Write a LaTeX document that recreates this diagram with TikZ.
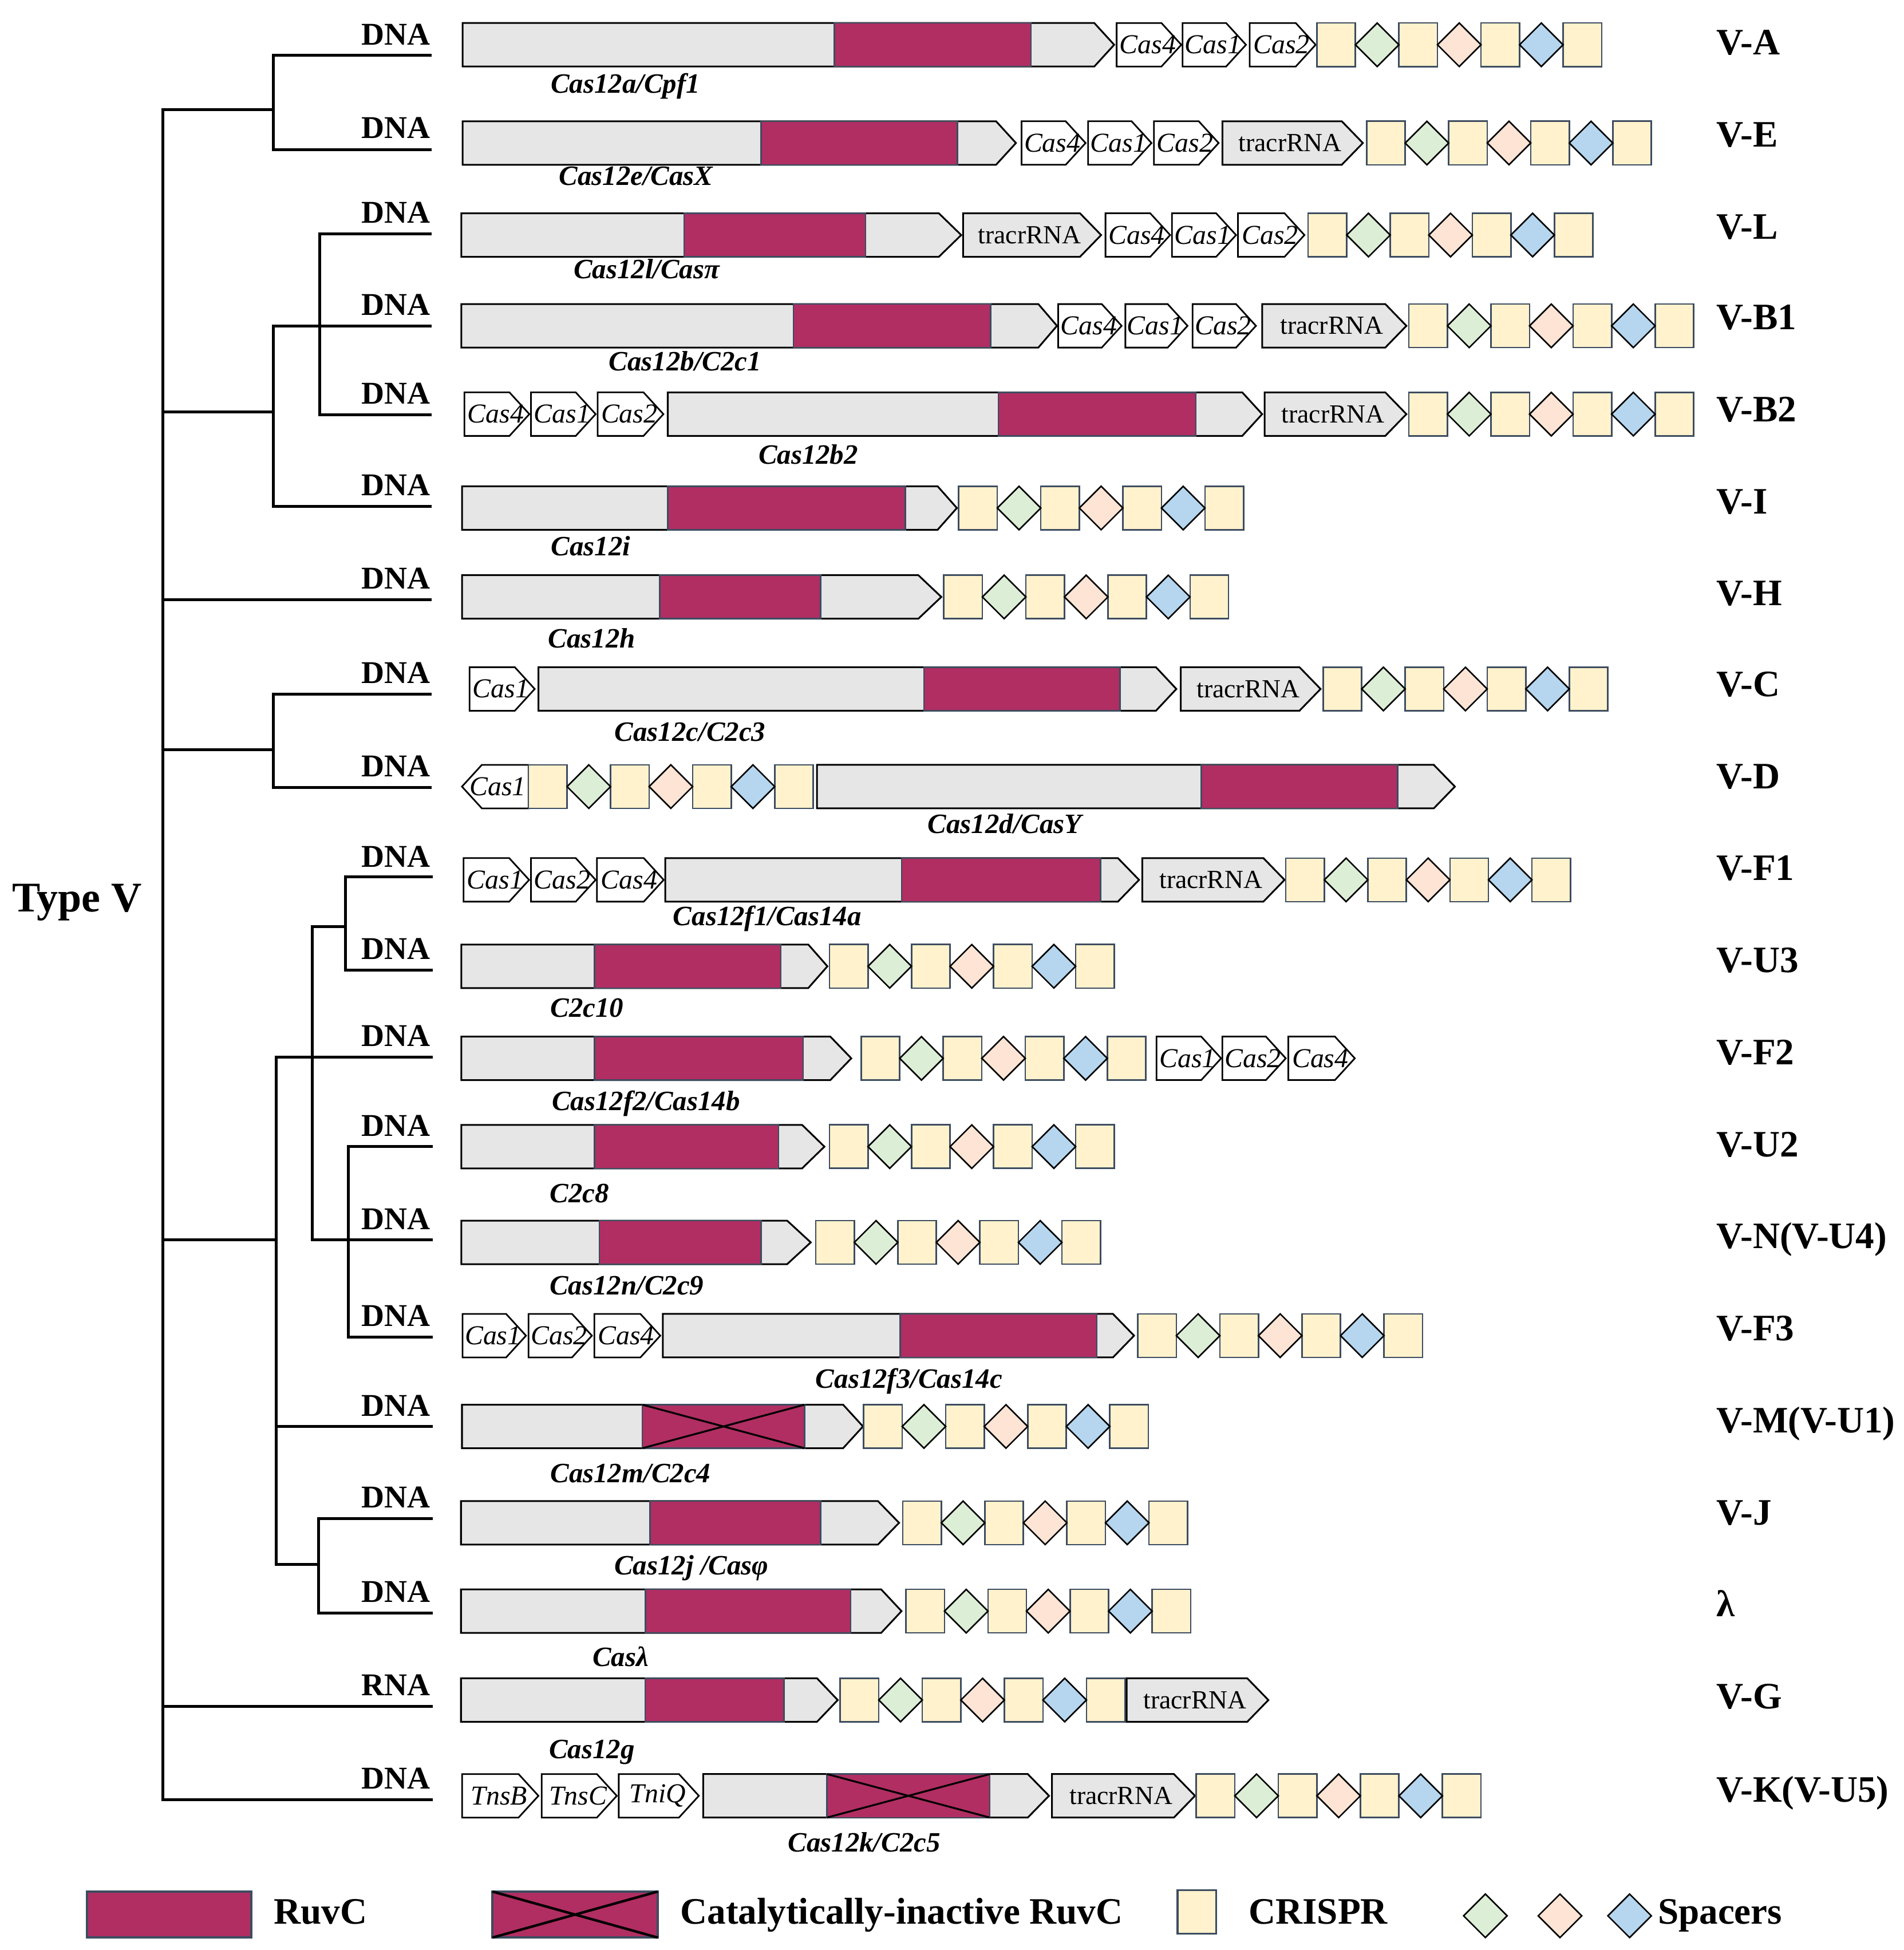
\documentclass[tikz,border=0pt]{standalone}
\usepackage{fontspec}
\setmainfont{Liberation Serif}
\definecolor{ruvcc}{RGB}{176,46,98}
\definecolor{bodyc}{RGB}{230,230,230}
\definecolor{creamc}{RGB}{255,242,204}
\definecolor{slatec}{RGB}{61,76,96}
\definecolor{spgc}{RGB}{221,238,214}
\definecolor{sppc}{RGB}{253,228,212}
\definecolor{spbc}{RGB}{181,214,238}
\tikzset{
  tree/.style={line width=2.3pt, line join=miter},
  genebody/.style={fill=bodyc, draw=black, line width=1.4pt, line join=miter},
  minigene/.style={fill=white, draw=black, line width=1.3pt, line join=miter},
  ruvbox/.style={fill=ruvcc, draw=slatec, line width=1.1pt},
  crosslines/.style={draw=black, line width=1.5pt},
  crsq/.style={fill=creamc, draw=slatec, line width=1.2pt},
  spacer/.style={draw=black, line width=1.2pt, line join=miter},
  dnatxt/.style={font=\fontsize{25.5}{26}\selectfont\bfseries, inner sep=0pt, anchor=base east},
  rowtxt/.style={font=\fontsize{30}{30}\selectfont\bfseries, inner sep=0pt, anchor=base west},
  genetxt/.style={font=\fontsize{22.5}{23}\selectfont\bfseries\itshape, inner sep=0pt, anchor=base},
  minitxt/.style={font=\fontsize{22}{22}\selectfont\itshape, inner sep=0pt},
  tracrtxt/.style={font=\fontsize{21}{21}\selectfont, inner sep=0pt},
  legtxt/.style={font=\fontsize{30}{30}\selectfont\bfseries, inner sep=0pt, anchor=base west}
}
% big gene arrow: x0, body end, tip, yc
\newcommand{\GeneBody}[4]{\filldraw[genebody] (#1,#4-17.5) -- (#2,#4-17.5) -- (#3,#4) -- (#2,#4+17.5) -- (#1,#4+17.5) -- cycle;}
\newcommand{\RuvBox}[3]{\filldraw[ruvbox] (#1,#3-17.5) rectangle (#2,#3+17.5);}
\newcommand{\DeadRuv}[3]{\RuvBox{#1}{#2}{#3}\draw[crosslines] (#1,#3-17.5) -- (#2,#3+17.5) (#1,#3+17.5) -- (#2,#3-17.5);}
% small gene arrow: name, x0, tip, yc, text
\newcommand{\MiniGene}[5]{\filldraw[minigene] (#2,#4-17.5) -- (#3-16,#4-17.5) -- (#3,#4) -- (#3-16,#4+17.5) -- (#2,#4+17.5) -- cycle;
  \node[minitxt] (#1) at ({(#2+#3)/2-1},#4) {#5};}
\newcommand{\MiniGeneL}[5]{\filldraw[minigene] (#3,#4-17.5) -- (#2+16,#4-17.5) -- (#2,#4) -- (#2+16,#4+17.5) -- (#3,#4+17.5) -- cycle;
  \node[minitxt] (#1) at ({(#2+#3)/2+2},#4) {#5};}
\newcommand{\Tracr}[4]{\filldraw[genebody] (#2,#4-17.5) -- (#3-17,#4-17.5) -- (#3,#4) -- (#3-17,#4+17.5) -- (#2,#4+17.5) -- cycle;
  \node[tracrtxt] (#1) at ({(#2+#3)/2-2},#4) {tracrRNA};}
\newcommand{\SpacerD}[3]{\filldraw[spacer, fill=#1] (#2,#3) -- ({#2+17.5},#3-17.5) -- ({#2+35},#3) -- ({#2+17.5},#3+17.5) -- cycle;}
\newcommand{\Crispr}[2]{\foreach \k in {0,1,2,3}{\filldraw[crsq] ({#1+66*\k},#2-17.5) rectangle ({#1+66*\k+31},#2+17.5);}
  \SpacerD{spgc}{#1+31}{#2}\SpacerD{sppc}{#1+97}{#2}\SpacerD{spbc}{#1+163}{#2}}
\begin{document}
\begin{tikzpicture}[x=1pt,y=-1pt]
\fill[white] (0,0) rectangle (1531,1568);
\useasboundingbox (0,0) rectangle (1531,1568);

% ---------------- tree ----------------
\coordinate (R0) at (131,88);
\coordinate (R1) at (131,331);
\coordinate (R2) at (131,482);
\coordinate (R3) at (131,603);
\coordinate (R4) at (131,997);
\coordinate (R5) at (131,1372);
\coordinate (R6) at (131,1447);
\coordinate (AE) at (220,88);
\coordinate (AEt) at (220,44.6);
\coordinate (AEb) at (220,120.5);
\coordinate (LA) at (347,44.6);
\coordinate (LE) at (347,120.5);
\coordinate (BI) at (220,331);
\coordinate (BIt) at (220,262);
\coordinate (BIb) at (220,407);
\coordinate (LB1) at (347,262);
\coordinate (LI) at (347,407);
\coordinate (LBt) at (257,188);
\coordinate (LBb) at (257,333.5);
\coordinate (LL) at (347,188);
\coordinate (LB2) at (347,333.5);
\coordinate (LH) at (347,482);
\coordinate (CD) at (220,603);
\coordinate (CDt) at (220,558);
\coordinate (CDb) at (220,633);
\coordinate (LC) at (347,558);
\coordinate (LD) at (347,633);
\coordinate (FG) at (222,997);
\coordinate (FGt) at (222,850);
\coordinate (FGm) at (222,1147);
\coordinate (FGb) at (222,1258);
\coordinate (LF2) at (348,850);
\coordinate (LM) at (348,1147);
\coordinate (JL) at (256,1258);
\coordinate (JLt) at (256,1221);
\coordinate (JLb) at (256,1297);
\coordinate (LJ) at (348,1221);
\coordinate (Llam) at (348,1297);
\coordinate (FN) at (251,745);
\coordinate (FNb) at (251,997);
\coordinate (LN) at (348,997);
\coordinate (FUc) at (278,745);
\coordinate (FUt) at (278,705);
\coordinate (FUb) at (278,780);
\coordinate (LF1) at (348,705);
\coordinate (LU3) at (348,780);
\coordinate (UFt) at (280,922);
\coordinate (UFb) at (280,1075);
\coordinate (LU2) at (348,922);
\coordinate (LF3) at (348,1075);
\coordinate (LG) at (348,1372);
\coordinate (LK) at (348,1447);

\draw[tree] (AE) -- (R0) -- (R6) -- (LK);
\draw[tree] (LA) -- (AEt) -- (AEb) -- (LE);
\draw[tree] (R1) -- (BI);
\draw[tree] (LB1) -- (BIt) -- (BIb) -- (LI);
\draw[tree] (LL) -- (LBt) -- (LBb) -- (LB2);
\draw[tree] (R2) -- (LH);
\draw[tree] (R3) -- (CD);
\draw[tree] (LC) -- (CDt) -- (CDb) -- (LD);
\draw[tree] (R4) -- (FG);
\draw[tree] (LF2) -- (FGt) -- (FGb) -- (JL);
\draw[tree] (FGm) -- (LM);
\draw[tree] (LJ) -- (JLt) -- (JLb) -- (Llam);
\draw[tree] (LN) -- (FNb) -- (FN) -- (FUc);
\draw[tree] (LF1) -- (FUt) -- (FUb) -- (LU3);
\draw[tree] (LU2) -- (UFt) -- (UFb) -- (LF3);
\draw[tree] (R5) -- (LG);

\node[font=\fontsize{34}{34}\selectfont\bfseries, anchor=base west, inner sep=0pt] (typeV) at (9.5,733) {Type V};

% DNA labels
\node[dnatxt] (dA) at (346,36) {DNA};
\node[dnatxt] (dE) at (346,111) {DNA};
\node[dnatxt] (dL) at (346,179.5) {DNA};
\node[dnatxt] (dB1) at (346,253.5) {DNA};
\node[dnatxt] (dB2) at (346,325) {DNA};
\node[dnatxt] (dI) at (346,398.5) {DNA};
\node[dnatxt] (dH) at (346,473.5) {DNA};
\node[dnatxt] (dC) at (346,549.5) {DNA};
\node[dnatxt] (dD) at (346,624.5) {DNA};
\node[dnatxt] (dF1) at (346,697) {DNA};
\node[dnatxt] (dU3) at (346,771.5) {DNA};
\node[dnatxt] (dF2) at (346,841.5) {DNA};
\node[dnatxt] (dU2) at (346,913.5) {DNA};
\node[dnatxt] (dN) at (346,988.5) {DNA};
\node[dnatxt] (dF3) at (346,1066.5) {DNA};
\node[dnatxt] (dM) at (346,1138.5) {DNA};
\node[dnatxt] (dJ) at (346,1212.5) {DNA};
\node[dnatxt] (dlam) at (346,1288.5) {DNA};
\node[dnatxt] (dG) at (346,1363.5) {RNA};
\node[dnatxt] (dK) at (346,1438.5) {DNA};

% row labels
\node[rowtxt] (tA) at (1380,44) {V-A};
\node[rowtxt] (tE) at (1380,118) {V-E};
\node[rowtxt] (tL) at (1380,192) {V-L};
\node[rowtxt] (tB1) at (1380,265) {V-B1};
\node[rowtxt] (tB2) at (1380,339) {V-B2};
\node[rowtxt] (tI) at (1380,413) {V-I};
\node[rowtxt] (tH) at (1380,487) {V-H};
\node[rowtxt] (tC) at (1380,560) {V-C};
\node[rowtxt] (tD) at (1380,634) {V-D};
\node[rowtxt] (tF1) at (1380,708) {V-F1};
\node[rowtxt] (tU3) at (1380,782) {V-U3};
\node[rowtxt] (tF2) at (1380,856) {V-F2};
\node[rowtxt] (tU2) at (1380,930) {V-U2};
\node[rowtxt] (tN) at (1380,1004) {V-N(V-U4)};
\node[rowtxt] (tF3) at (1380,1078) {V-F3};
\node[rowtxt] (tM) at (1380,1152) {V-M(V-U1)};
\node[rowtxt] (tJ) at (1380,1226) {V-J};
\node[rowtxt] (tlam) at (1380,1300) {λ};
\node[rowtxt] (tG) at (1380,1374) {V-G};
\node[rowtxt] (tK) at (1380,1449) {V-K(V-U5)};

% ---------------- rows ----------------
% V-A
\GeneBody{372}{880}{896}{36}
\RuvBox{671}{829}{36}
\MiniGene{A4}{898}{950}{36}{Cas4}
\MiniGene{A1}{951}{1002}{36}{Cas1}
\MiniGene{A2}{1005}{1058}{36}{Cas2}
\Crispr{1059}{36}
\node[genetxt] (gA) at (503,75) {Cas12a/Cpf1};
% V-E
\GeneBody{372}{801}{817}{115}
\RuvBox{612}{770}{115}
\MiniGene{E4}{821.5}{873}{115}{Cas4}
\MiniGene{E1}{875}{926}{115}{Cas1}
\MiniGene{E2}{928}{980}{115}{Cas2}
\Tracr{Etr}{983}{1096}{115}
\Crispr{1099}{115}
\node[genetxt] (gE) at (511.5,149) {Cas12e/CasX};
% V-L
\GeneBody{371}{755}{773}{189}
\RuvBox{550}{696}{189}
\Tracr{Ltr}{774.5}{885.5}{189}
\MiniGene{L4}{889}{941}{189}{Cas4}
\MiniGene{L1}{942.5}{994}{189}{Cas1}
\MiniGene{L2}{995.5}{1049}{189}{Cas2}
\Crispr{1052}{189}
\node[genetxt] (gL) at (520,224) {Cas12l/Casπ};
% V-B1
\GeneBody{371}{835}{850}{262}
\RuvBox{638}{796.6}{262}
\MiniGene{B14}{851}{902}{262}{Cas4}
\MiniGene{B11}{905}{955}{262}{Cas1}
\MiniGene{B12}{959}{1010}{262}{Cas2}
\Tracr{B1tr}{1015}{1131}{262}
\Crispr{1133}{262}
\node[genetxt] (gB1) at (551,298) {Cas12b/C2c1};
% V-B2
\MiniGene{B24}{373.5}{425.7}{333}{Cas4}
\MiniGene{B21}{427}{479}{333}{Cas1}
\MiniGene{B22}{480.6}{533.5}{333}{Cas2}
\GeneBody{537}{999}{1015}{333}
\RuvBox{803}{961.6}{333}
\Tracr{B2tr}{1017}{1131}{333}
\Crispr{1133}{333}
\node[genetxt] (gB2) at (650,373) {Cas12b2};
% V-I
\GeneBody{371.6}{754}{769.5}{408.5}
\RuvBox{537}{728}{408.5}
\Crispr{771}{408.5}
\node[genetxt] (gI) at (475,447) {Cas12i};
% V-H
\GeneBody{371.6}{738.5}{757}{480}
\RuvBox{530.5}{660}{480}
\Crispr{759}{480}
\node[genetxt] (gH) at (476,521) {Cas12h};
% V-C
\MiniGene{C1}{377.6}{430}{554}{Cas1}
\GeneBody{433}{929.6}{946}{554}
\RuvBox{743}{900.6}{554}
\Tracr{Ctr}{949.5}{1062}{554}
\Crispr{1064}{554}
\node[genetxt] (gC) at (555,596) {Cas12c/C2c3};
% V-D
\MiniGeneL{D1}{371.5}{425}{632.5}{Cas1}
\Crispr{425}{632.5}
\GeneBody{657}{1153}{1170}{632.5}
\RuvBox{966}{1124}{632.5}
\node[genetxt] (gD) at (808,670) {Cas12d/CasY};
% V-F1
\MiniGene{F11}{372.8}{425.5}{707.5}{Cas1}
\MiniGene{F12}{427}{479}{707.5}{Cas2}
\MiniGene{F14}{480}{533.7}{707.5}{Cas4}
\GeneBody{535}{899}{916}{707.5}
\RuvBox{725}{885}{707.5}
\Tracr{F1tr}{918.6}{1033}{707.5}
\Crispr{1034}{707.5}
\node[genetxt] (gF1) at (617,744) {Cas12f1/Cas14a};
% V-U3
\GeneBody{371}{650}{665.4}{777}
\RuvBox{478}{628}{777}
\Crispr{667}{777}
\node[genetxt] (gU3) at (472,818) {C2c10};
% V-F2
\GeneBody{371}{667.7}{684.6}{851}
\RuvBox{478}{646}{851}
\Crispr{692.5}{851}
\MiniGene{F21}{930}{982}{851}{Cas1}
\MiniGene{F22}{983}{1034}{851}{Cas2}
\MiniGene{F24}{1036}{1089.5}{851}{Cas4}
\node[genetxt] (gF2) at (519.5,893) {Cas12f2/Cas14b};
% V-U2
\GeneBody{371}{645}{663}{922}
\RuvBox{478}{626}{922}
\Crispr{667}{922}
\node[genetxt] (gU2) at (466,967) {C2c8};
% V-N
\GeneBody{371}{633}{652}{999}
\RuvBox{482}{612}{999}
\Crispr{656}{999}
\node[genetxt] (gN) at (504,1041) {Cas12n/C2c9};
% V-F3
\MiniGene{F31}{372}{423}{1074}{Cas1}
\MiniGene{F32}{425}{476}{1074}{Cas2}
\MiniGene{F34}{478}{531}{1074}{Cas4}
\GeneBody{533}{895}{912}{1074}
\RuvBox{724}{882}{1074}
\Crispr{915}{1074}
\node[genetxt] (gF3) at (731,1116) {Cas12f3/Cas14c};
% V-M
\GeneBody{371.5}{678}{694}{1147}
\DeadRuv{516.6}{647}{1147}
\Crispr{694.5}{1147}
\node[genetxt] (gM) at (507,1192) {Cas12m/C2c4};
% V-J
\GeneBody{370.7}{706}{723}{1224.5}
\RuvBox{522.7}{660}{1224.5}
\Crispr{726}{1224.5}
\node[genetxt] (gJ) at (556,1266) {Cas12j /Casφ};
% lambda
\GeneBody{370.7}{708.6}{725}{1295.5}
\RuvBox{519}{684}{1295.5}
\Crispr{728.5}{1295.5}
\node[genetxt] (glam) at (499,1340) {Casλ};
% V-G
\GeneBody{370.7}{657}{673.7}{1367}
\RuvBox{518.7}{630.4}{1367}
\Crispr{675.7}{1367}
\Tracr{Gtr}{906}{1020}{1367}
\node[genetxt] (gG) at (476,1414) {Cas12g};
% V-K
\MiniGene{KB}{371.6}{433}{1444}{TnsB}
\MiniGene{KC}{435.6}{496}{1444}{TnsC}
\MiniGene{KQ}{497.6}{562}{1444}{TniQ}
\GeneBody{565.5}{826.5}{843.6}{1444}
\DeadRuv{665}{796}{1444}
\Tracr{Ktr}{846}{961}{1444}
\Crispr{962}{1444}
\node[genetxt] (gK) at (695,1489) {Cas12k/C2c5};

% ---------------- legend ----------------
\filldraw[ruvbox, line width=1.8pt] (70,1521) rectangle (202,1558);
\node[legtxt] (legR) at (220,1547) {RuvC};
\filldraw[ruvbox, line width=1.8pt] (396,1521) rectangle (529,1558);
\draw[crosslines, line width=2pt] (396,1521) -- (529,1558) (396,1558) -- (529,1521);
\node[legtxt] (legD) at (547,1547) {Catalytically-inactive RuvC};
\filldraw[crsq, line width=1.5pt] (947,1520) rectangle (978,1555);
\node[legtxt] (legC) at (1004,1547) {CRISPR};
\SpacerD{spgc}{1177}{1540.5}
\SpacerD{sppc}{1237}{1540.5}
\SpacerD{spbc}{1293}{1540.5}
\node[legtxt] (legS) at (1333,1547) {Spacers};
\end{tikzpicture}
\end{document}
